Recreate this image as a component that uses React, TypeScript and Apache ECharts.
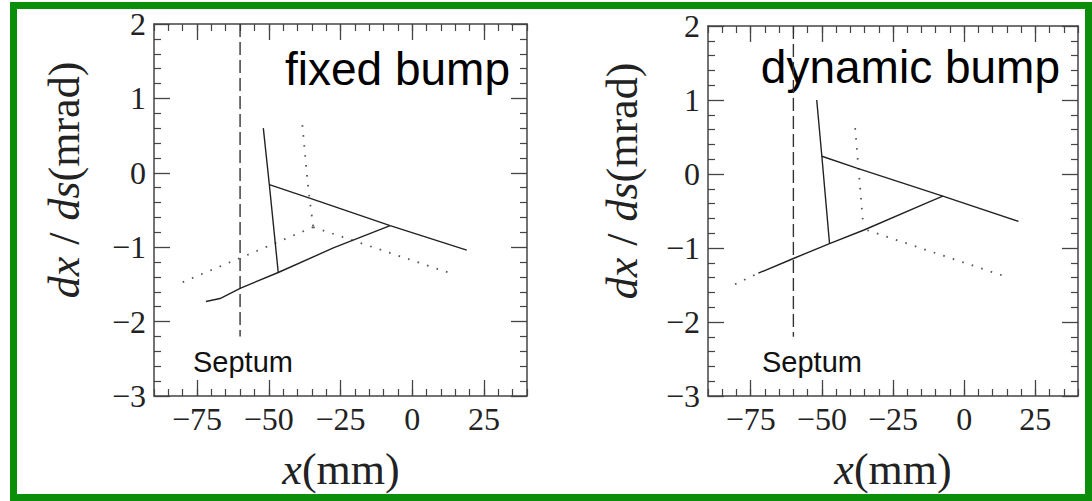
import React, { useEffect, useRef } from "react";
import * as echarts from "echarts";

// ---- data (mm, mrad) ----
const xMajorTicks = [-75, -50, -25, 0, 25];
const septumLine = [[-60, 2], [-60, -2.2]];

const fixedSolidA = [[-51.9, 0.6], [-49.8, -0.16], [-46.7, -1.34]];
const fixedSolidB = [[-49.8, -0.16], [-35, -0.35], [-7.7, -0.71], [19, -1.04]];
const fixedSolidC = [[-71.9, -1.73], [-67, -1.69], [-59.8, -1.55], [-46.7, -1.34], [-27.5, -1.01], [-7.7, -0.71]];
const fixedDotA = [[-38.3, 0.64], [-36.2, -0.22], [-34.5, -0.73]];
const fixedDotB = [[-80, -1.47], [-34.5, -0.73]];
const fixedDotC = [[-34.5, -0.73], [14.1, -1.36]];

const dynSolidA = [[-51.8, 1.0], [-50, 0.24], [-47.3, -0.94]];
const dynSolidB = [[-50, 0.24], [-37.7, 0.08], [-7.5, -0.3], [19.1, -0.64]];
const dynSolidC = [[-72.3, -1.34], [-60.2, -1.145], [-47.3, -0.94], [-35.4, -0.76], [-13.1, -0.39], [-7.5, -0.3]];
const dynDotA = [[-38.3, 0.62], [-35.4, -0.72]];
const dynDotB = [[-80.5, -1.49], [-72.3, -1.34]];
const dynDotC = [[-34, -0.76], [14.1, -1.38]];

const panelTitles = ["fixed bump", "dynamic bump"];

const fmt = (v: number) => (v < 0 ? "\u2212" + Math.abs(v) : String(v));

const SERIF = "'Liberation Serif', 'Times New Roman', serif";
const SANS = "'Liberation Sans', Arial, Helvetica, sans-serif";
const FRAME = "#444";

function xAxesFor(gridIndex: number) {
  const base = { type: "value", gridIndex, min: -90, max: 40, splitLine: { show: false } };
  const mk = (position: string, major: boolean, labels: boolean) => ({
    ...base,
    position,
    interval: 5,
    axisLine: { show: !major, onZero: false, lineStyle: { color: FRAME, width: 1.5 } },
    axisTick: major
      ? { show: true, inside: true, length: 16, customValues: xMajorTicks, lineStyle: { color: FRAME, width: 1.3 } }
      : { show: true, inside: true, length: 7, lineStyle: { color: FRAME, width: 1.2 } },
    axisLabel: labels
      ? { show: true, customValues: xMajorTicks, formatter: fmt, fontFamily: SERIF, fontSize: 32, color: "#222", margin: 7 }
      : { show: false },
  });
  return [mk("bottom", false, true), mk("bottom", true, false), mk("top", false, false), mk("top", true, false)];
}

function yAxesFor(gridIndex: number) {
  const mk = (position: string, labels: boolean) => ({
    type: "value",
    gridIndex,
    position,
    min: -3,
    max: 2,
    interval: 1,
    splitLine: { show: false },
    axisLine: { show: true, onZero: false, lineStyle: { color: FRAME, width: 1.5 } },
    axisTick: { show: true, inside: true, length: 16, lineStyle: { color: FRAME, width: 1.3 } },
    minorTick: { show: true, splitNumber: 5, length: 7, lineStyle: { color: FRAME, width: 1.2 } },
    axisLabel: labels
      ? { show: true, formatter: fmt, fontFamily: SERIF, fontSize: 32, color: "#222", margin: 8 }
      : { show: false },
  });
  return [mk("left", true), mk("right", false)];
}

function lineSeries(data: number[][], g: number, kind: "solid" | "dot" | "dash") {
  const style =
    kind === "solid"
      ? { color: "#222", width: 1.4, type: "solid" }
      : kind === "dot"
      ? { color: "#555", width: 1.8, type: [1.6, 8.4] }
      : { color: "#333", width: 1.4, type: [13, 5] };
  return {
    type: "line",
    xAxisIndex: g * 4,
    yAxisIndex: g * 2,
    data,
    symbol: "none",
    silent: true,
    lineStyle: style,
  };
}

function yLabel(cx: number, cy: number) {
  return {
    type: "text",
    x: cx,
    y: cy,
    rotation: Math.PI / 2,
    style: {
      text: "{i|dx}{s|/}{i|ds}{r|(mrad)}",
      align: "center",
      verticalAlign: "middle",
      rich: {
        i: { fontFamily: SERIF, fontStyle: "italic", fontSize: 44, fill: "#222" },
        s: { fontFamily: SERIF, fontSize: 44, fill: "#222", padding: [0, 12] },
        r: { fontFamily: SERIF, fontSize: 44, fill: "#222" },
      },
    },
  };
}

function xLabel(cx: number, cy: number) {
  return {
    type: "text",
    x: cx,
    y: cy,
    style: {
      text: "{i|x}{r|(mm)}",
      align: "center",
      verticalAlign: "middle",
      rich: {
        i: { fontFamily: SERIF, fontStyle: "italic", fontSize: 44, fill: "#222" },
        r: { fontFamily: SERIF, fontSize: 44, fill: "#222" },
      },
    },
  };
}

export default function App() {
  const ref = useRef<HTMLDivElement>(null);
  useEffect(() => {
    if (!ref.current) return;
    const chart = echarts.init(ref.current, undefined, { renderer: "svg" });
    chart.setOption({
      animation: false,
      backgroundColor: "#fff",
      grid: [
        { left: 154, top: 24, width: 373, height: 372 },
        { left: 708, top: 26, width: 370, height: 370 },
      ],
      xAxis: [...xAxesFor(0), ...xAxesFor(1)],
      yAxis: [...yAxesFor(0), ...yAxesFor(1)],
      series: [
        lineSeries(septumLine, 0, "dash"),
        lineSeries(fixedDotA, 0, "dot"),
        lineSeries(fixedDotB, 0, "dot"),
        lineSeries(fixedDotC, 0, "dot"),
        lineSeries(fixedSolidA, 0, "solid"),
        lineSeries(fixedSolidB, 0, "solid"),
        lineSeries(fixedSolidC, 0, "solid"),
        lineSeries(septumLine, 1, "dash"),
        lineSeries(dynDotA, 1, "dot"),
        lineSeries(dynDotB, 1, "dot"),
        lineSeries(dynDotC, 1, "dot"),
        lineSeries(dynSolidA, 1, "solid"),
        lineSeries(dynSolidB, 1, "solid"),
        lineSeries(dynSolidC, 1, "solid"),
      ],
      graphic: [
        {
          type: "rect",
          shape: { x: 13.5, y: 5.5, width: 1075, height: 492 },
          style: { fill: "none", stroke: "#0b8f0b", lineWidth: 7 },
          silent: true,
        },
        {
          type: "text",
          x: 510,
          y: 69,
          style: { text: panelTitles[0], align: "right", verticalAlign: "middle", fontFamily: SANS, fontSize: 46, fill: "#000" },
        },
        {
          type: "text",
          x: 1060,
          y: 67,
          style: { text: panelTitles[1], align: "right", verticalAlign: "middle", fontFamily: SANS, fontSize: 46, fill: "#000" },
        },
        {
          type: "text",
          x: 193,
          y: 362,
          style: { text: "Septum", align: "left", verticalAlign: "middle", fontFamily: SANS, fontSize: 29, fill: "#111" },
        },
        {
          type: "text",
          x: 762,
          y: 362,
          style: { text: "Septum", align: "left", verticalAlign: "middle", fontFamily: SANS, fontSize: 29, fill: "#111" },
        },
        yLabel(64, 180),
        yLabel(622, 181),
        xLabel(341, 469),
        xLabel(893, 469),
      ],
    });
    return () => chart.dispose();
  }, []);
  return <div ref={ref} style={{ position: "absolute", left: 0, top: 0, width: 1092, height: 501 }} />;
}
